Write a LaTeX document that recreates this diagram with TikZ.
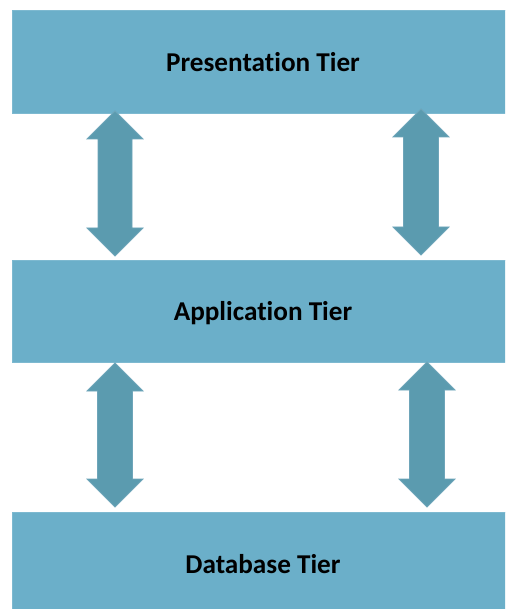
\documentclass[tikz,border=0pt]{standalone}
\usepackage{fontspec}
\setmainfont[RawFeature={-liga}]{Carlito}
\definecolor{barfill}{RGB}{107,175,201}
\definecolor{barline}{RGB}{125,185,208}
\definecolor{arrfill}{RGB}{91,155,175}
\definecolor{arrline}{RGB}{110,165,185}
\newcommand\tierarrow[5]{% x, ytop, ybot, head half width, shaft half width
  \fill[arrfill,draw=arrline,line width=0.8pt,line join=miter]
    (#1,-#2) -- (#1+#4,-#2-28) -- (#1+#5,-#2-28) -- (#1+#5,-#3+28)
    -- (#1+#4,-#3+28) -- (#1,-#3) -- (#1-#4,-#3+28) -- (#1-#5,-#3+28)
    -- (#1-#5,-#2-28) -- (#1-#4,-#2-28) -- cycle;}
\begin{document}
\begin{tikzpicture}[x=1pt,y=1pt,
  tier/.style={fill=barfill,draw=barline,line width=0.8pt},
  tiertext/.style={font=\bfseries\fontsize{27.2}{32}\selectfont,text=black}]
\useasboundingbox (0,0) rectangle (505,-609);
\begin{scope}
\clip (0,0) rectangle (505,-609);
\draw[tier] (12,-10) rectangle (520,-113);
\draw[tier] (12,-260) rectangle (520,-362);
\draw[tier] (12,-512) rectangle (520,-615);
\end{scope}
\node[tiertext] (pres) at (263,-62) {Presentation Tier};
\node[tiertext] (app) at (263,-313) {Application Tier};
\node[tiertext] (db) at (263,-564) {Database Tier};
\tierarrow{115}{111}{256}{28}{17}
\tierarrow{421}{109}{255}{28}{17.5}
\tierarrow{115}{363}{507}{28}{17.5}
\tierarrow{427}{362}{507}{28}{17.5}
\end{tikzpicture}
\end{document}
